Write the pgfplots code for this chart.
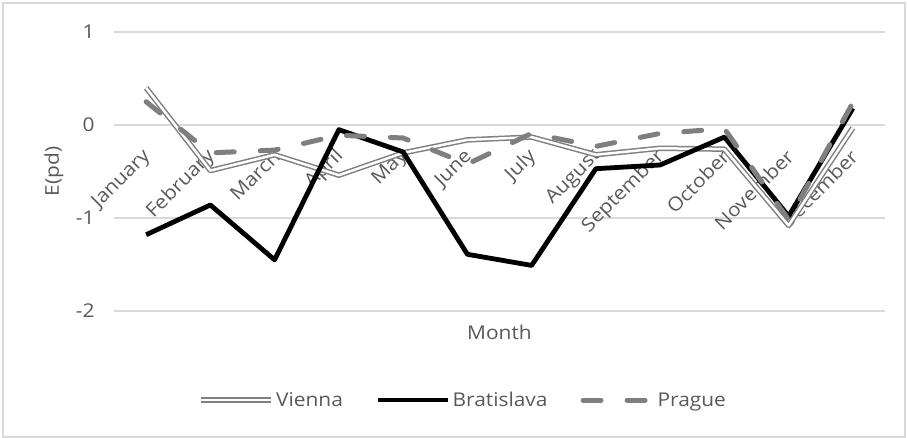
\documentclass[border=0pt]{standalone}
\usepackage{fontspec}
\setmainfont{Open Sans}[FakeStretch=1.1]
\usepackage{pgfplots}
\usepackage{pgfplotstable}
\pgfplotsset{compat=1.18}

\definecolor{txt}{HTML}{595959}
\definecolor{grd}{HTML}{D9D9D9}
\definecolor{prg}{HTML}{7F7F7F}
\definecolor{vie}{HTML}{808080}
\newcommand\lab{\fontsize{19bp}{22bp}\selectfont}

% month index, Vienna, Bratislava, Prague
\pgfplotstableread{
m   vie    bra    pra
0   0.40  -1.18   0.25
1  -0.49  -0.86  -0.30
2  -0.32  -1.45  -0.27
3  -0.54  -0.05  -0.11
4  -0.30  -0.29  -0.14
5  -0.16  -1.39  -0.42
6  -0.13  -1.51  -0.09
7  -0.32  -0.47  -0.23
8  -0.25  -0.43  -0.09
9  -0.26  -0.13  -0.04
10 -1.08  -0.98  -1.02
11 -0.03   0.18   0.24
}\epd

\begin{document}
\begin{tikzpicture}
\useasboundingbox (0bp,0bp) rectangle (907bp,438bp);
\draw[grd, line width=1.2bp] (3bp,1bp) rectangle (905bp,435bp);
\begin{axis}[
    at={(114bp,127bp)}, anchor=south west,
    width=771bp, height=279bp, scale only axis,
    xmin=-0.5, xmax=11.5, ymin=-2, ymax=1,
    axis x line=middle, axis y line=left,
    axis line style={draw=none},
    hide obscured x ticks=false, hide obscured y ticks=false,
    major tick length=0pt,
    xtick={0,...,11},
    xticklabels={January,February,March,April,May,June,July,August,September,October,November,December},
    ytick={-2,-1,0,1},
    /pgf/number format/assume math mode=true,
    ymajorgrids, grid style={grd, line width=1.2bp},
    tick label style={font=\lab, text=txt},
    xticklabel style={xshift=4bp, yshift=-26bp, rotate=45, anchor=east},
    yticklabel style={anchor=east, xshift=-16bp},
    every axis x label/.style={at={(axis description cs:0.5,-0.0753)}, anchor=center, font=\lab, text=txt},
    every axis y label/.style={at={(axis description cs:-0.0778,0.5)}, rotate=90, anchor=center, font=\lab, text=txt},
    xlabel={Month}, ylabel={E(pd)},
    legend columns=3,
    legend style={at={(axis description cs:0.453,-0.319)}, anchor=center,
        draw=none, fill=none, font=\lab, text=txt, inner sep=0pt,
        /tikz/every even column/.append style={column sep=31bp}},
    legend image code/.code={\draw[#1] (0bp,0bp) -- (70bp,0bp);},
    line join=round,
]
\addplot[vie, line width=1.5bp, double=white, double distance=2.5bp] table[x=m, y=vie] {\epd};
\addlegendentry{Vienna}
\addplot[black, line width=4.8bp] table[x=m, y=bra] {\epd};
\addlegendentry{Bratislava}
\addplot[prg, line width=5bp, line cap=round, dash pattern=on 18bp off 26bp] table[x=m, y=pra] {\epd};
\addlegendentry{Prague}
\end{axis}
\end{tikzpicture}
\end{document}
